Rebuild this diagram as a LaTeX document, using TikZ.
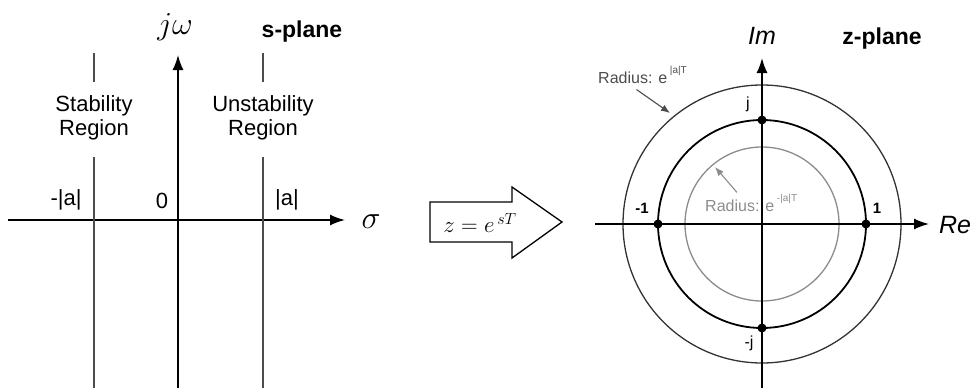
\RequirePackage{fix-cm}
\documentclass[tikz,border=0pt]{standalone}
\usepackage{amsmath}
\usepackage{fontspec}
\setmainfont{Liberation Sans}
\usetikzlibrary{arrows.meta,positioning,calc}

\begin{document}
\begin{tikzpicture}[
  x=1pt,y=-1pt,
  every node/.style={font=\fontsize{22}{24}\selectfont,inner sep=0pt},
  axis/.style={line width=1.6pt,-{Latex[length=15pt,width=11pt]}},
  bound/.style={line width=1.2pt,draw=black!70},
  dot/.style={circle,fill=black,minimum size=9pt,inner sep=0pt},
  plane/.style={font=\fontsize{23}{26}\selectfont\bfseries},
  varlabel/.style={font=\fontsize{32}{34}\selectfont},
  ptlabel/.style={font=\fontsize{16}{18}\selectfont},
  radlabel/.style={font=\fontsize{16}{18}\selectfont,anchor=west},
  radarrow/.style={line width=1.1pt,-{Latex[length=9pt,width=7pt]}},
]
\useasboundingbox (0,0) rectangle (974,388);

% s-plane (left, origin at x=178)
\coordinate (sl) at (8,220);
\coordinate (sr) at (345,220);
\coordinate (sb) at (178,388);
\coordinate (st) at (178,55);
\draw[axis] (sl) -- (sr);
\draw[axis] (sb) -- (st);
\node[varlabel] (jw) at (175,27) {$j\omega$};
\node[varlabel] (sig) at (371,222) {$\sigma$};
\node[plane] (splane) at (302,32) {s-plane};
\node (zero) at (162,201) {0};
\node (mina) at (66,200) {-|a|};
\node (plsa) at (287,200) {|a|};

% stability boundaries
\node[align=center] (stab) at (94,118) {Stability\\Region};
\node[align=center] (unstab) at (263,118) {Unstability\\Region};
\coordinate (stabtop) at (94,53);
\coordinate (stabbot) at (94,388);
\coordinate (unstabtop) at (263,53);
\coordinate (unstabbot) at (263,388);
\draw[bound] (stabtop) -- ++(0,29);
\draw[bound] (stabbot) -- ++(0,-231);
\draw[bound] (unstabtop) -- ++(0,29);
\draw[bound] (unstabbot) -- ++(0,-231);

% mapping arrow
\draw[line width=1.3pt] (430,202) -- (512,202) -- (512,187) -- (562,222)
  -- (512,258) -- (512,242) -- (430,242) -- cycle;
\node[font=\fontsize{23}{26}\selectfont] (map) at (480,223) {$z=e^{\,sT}$};

% z-plane (right, origin at x=762)
\coordinate (zc) at (762,224);
\coordinate (zl) at (595,224);
\coordinate (zr) at (929,224);
\coordinate (zb) at (762,388);
\coordinate (zt) at (762,58);
\draw[line width=1.3pt,black!80] (zc) circle[radius=139pt];
\draw[line width=1.3pt,black!45] (zc) circle[radius=77pt];
\draw[line width=1.8pt] (zc) circle[radius=104pt];
\draw[axis] (zl) -- (zr);
\draw[axis] (zb) -- (zt);
\node[font=\fontsize{25}{27}\selectfont\itshape] (im) at (762,36) {Im};
\node[font=\fontsize{25}{27}\selectfont\itshape] (re) at (955,225) {Re};
\node[plane] (zplane) at (882,39) {z-plane};

% unit circle points
\node[dot] (one) at (866,224) {};
\node[dot] (mone) at (658,224) {};
\node[dot] (jj) at (762,120) {};
\node[dot] (mjj) at (762,328) {};
\node[ptlabel,font=\fontsize{15}{17}\selectfont\bfseries] (onel) at (877,208) {1};
\node[ptlabel,font=\fontsize{15}{17}\selectfont\bfseries] (monel) at (642,208) {-1};
\node[ptlabel] (jl) at (748,104) {j};
\node[ptlabel] (mjl) at (749,343) {-j};

% radius labels
\node[radlabel,text=black!70] (radout) at (598,75)
  {Radius: e\,\raisebox{1.1ex}{\fontsize{10}{10}\selectfont|a|T}};
\node[radlabel,text=black!45] (radin) at (705,203)
  {Radius: e\,\raisebox{1.1ex}{\fontsize{10}{10}\selectfont-|a|T}};
\coordinate (radouttip) at (670,113);
\coordinate (radintip) at (715,167);
\draw[radarrow,black!70] ([xshift=-6pt,yshift=-6pt]radout.south) -- (radouttip);
\draw[radarrow,black!45] ([xshift=32pt,yshift=2pt]radin.north west) -- (radintip);

\end{tikzpicture}
\end{document}
